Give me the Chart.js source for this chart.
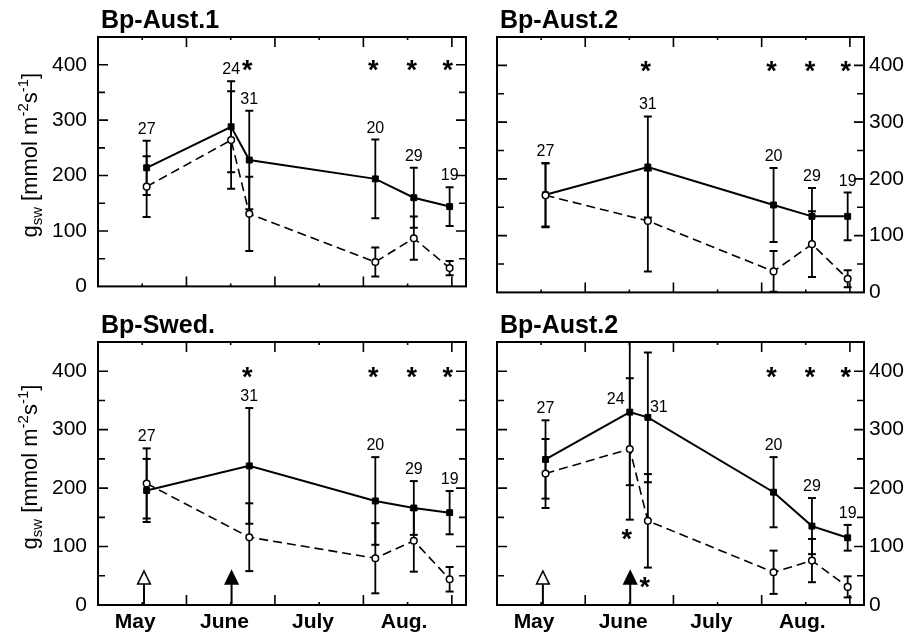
<!DOCTYPE html>
<html>
<head>
<meta charset="utf-8">
<script src="https://cdn.jsdelivr.net/npm/chart.js@4.4.1/dist/chart.umd.min.js"></script>
<style>
html, body { margin: 0; padding: 0; background: #fff; }
#wrap { position: relative; width: 910px; height: 634px; overflow: hidden; }
canvas { position: absolute; }
</style>
</head>
<body>
<div id="wrap">
  <canvas id="c1" width="480" height="310" style="left:0;top:0"></canvas>
  <canvas id="c2" width="430" height="310" style="left:480px;top:0"></canvas>
  <canvas id="c3" width="480" height="324" style="left:0;top:310px"></canvas>
  <canvas id="c4" width="430" height="324" style="left:480px;top:310px"></canvas>
</div>
<script>
// x is in months counted from 1 May
const monthNames = ['May', 'June', 'July', 'Aug.'];
const monthLabelAt = [0.42, 1.43, 2.43, 3.46];
const sampleX = [0.55, 1.505, 1.71, 3.135, 3.57, 3.975];
const sampleN = [27, 24, 31, 20, 29, 19];
const yTickValues = [0, 100, 200, 300, 400];
const arrowX = [0.52, 1.51];
const arrowFilled = [false, true];

// Bp-Aust.1
const aust1Solid = [214, 288, 228, 194, 160, 144];
const aust1SolidErr = [49, 82, 89, 71, 54, 35];
const aust1Open = [180, 264, 131, 44, 87, 33];
const aust1OpenErr = [55, 88, 67, 26, 39, 13];
const aust1Sig = [false, false, true, true, true, true];

// Bp-Aust.2 (top)
const aust2Solid = [172, null, 221, 154, 134, 134];
const aust2SolidErr = [56, null, 89, 65, 50, 42];
const aust2Open = [171, null, 126, 37, 85, 24];
const aust2OpenErr = [56, null, 89, 36, 58, 15];
const aust2Sig = [false, false, true, true, true, true];

// Bp-Swed.
const swedSolid = [196, null, 238, 178, 166, 158];
const swedSolidErr = [54, null, 99, 75, 46, 37];
const swedOpen = [208, null, 116, 80, 110, 44];
const swedOpenErr = [60, null, 58, 60, 53, 21];
const swedSig = [false, false, true, true, true, true];

// Bp-Aust.2 (bottom)
const aust2bSolid = [249, 330, 321, 193, 135, 115];
const aust2bSolidErr = [67, 125, 111, 60, 48, 22];
const aust2bOpen = [225, 267, 144, 56, 76, 31];
const aust2bOpenErr = [59, 121, 80, 37, 37, 18];
const aust2bSig = [false, false, false, true, true, true];
const aust2bSigBelow = [false, true, true, false, false, false];

const FONT = '"Liberation Sans", Arial, Helvetica, sans-serif';

const panels = [
  { id: 'c1', title: 'Bp-Aust.1', side: 'left', bottom: false,
    solid: aust1Solid, solidErr: aust1SolidErr, open: aust1Open, openErr: aust1OpenErr, sig: aust1Sig,
    padding: { left: 0, top: 37, right: 14, bottom: 10 } },
  { id: 'c2', title: 'Bp-Aust.2', side: 'right', bottom: false,
    solid: aust2Solid, solidErr: aust2SolidErr, open: aust2Open, openErr: aust2OpenErr, sig: aust2Sig,
    padding: { left: 17, top: 37, right: 0, bottom: 10 } },
  { id: 'c3', title: 'Bp-Swed.', side: 'left', bottom: true,
    solid: swedSolid, solidErr: swedSolidErr, open: swedOpen, openErr: swedOpenErr, sig: swedSig,
    padding: { left: 0, top: 32, right: 14, bottom: 0 } },
  { id: 'c4', title: 'Bp-Aust.2', side: 'right', bottom: true,
    solid: aust2bSolid, solidErr: aust2bSolidErr, open: aust2bOpen, openErr: aust2bOpenErr, sig: aust2bSig,
    sigBelow: aust2bSigBelow,
    labelNudge: { 1: [-14, 69], 2: [11, 66] },
    padding: { left: 17, top: 32, right: 0, bottom: 0 } }
];

function toPoints(vals) {
  return sampleX.map((x, i) => ({ x: x, y: vals[i] }));
}

// each error bar is a two-point segment, separated by gaps
function toBars(vals, errs) {
  const out = [];
  vals.forEach((v, i) => {
    if (v === null) return;
    out.push({ x: sampleX[i], y: v - errs[i] });
    out.push({ x: sampleX[i], y: v + errs[i] });
    out.push({ x: sampleX[i], y: null });
  });
  return out;
}

function centeredText(ctx, s, cx, cy) {
  const m = ctx.measureText(s);
  const asc = m.actualBoundingBoxAscent, desc = m.actualBoundingBoxDescent;
  ctx.fillText(s, cx, cy + (asc - desc) / 2);
}

function drawYLabel(ctx, baseX, centerY) {
  const parts = [
    { t: 'g', size: 22, dy: 0 },
    { t: 'sw', size: 15, dy: 5 },
    { t: ' [mmol m', size: 22, dy: 0 },
    { t: '-2', size: 15, dy: -9 },
    { t: 's', size: 22, dy: 0 },
    { t: '-1', size: 15, dy: -9 },
    { t: ']', size: 22, dy: 0 }
  ];
  ctx.save();
  ctx.translate(baseX, centerY);
  ctx.rotate(-Math.PI / 2);
  ctx.textAlign = 'left';
  ctx.textBaseline = 'alphabetic';
  let total = 0;
  parts.forEach(p => { ctx.font = p.size + 'px ' + FONT; total += ctx.measureText(p.t).width; });
  let x = -total / 2;
  parts.forEach(p => {
    ctx.font = p.size + 'px ' + FONT;
    ctx.fillText(p.t, x, p.dy);
    x += ctx.measureText(p.t).width;
  });
  ctx.restore();
}

function decor(p) {
  return {
    id: 'decor_' + p.id,
    afterDraw(chart) {
      const { ctx, chartArea: a, scales } = chart;
      const xs = scales.x, ys = scales.y;
      ctx.save();
      ctx.strokeStyle = '#000';
      ctx.fillStyle = '#000';

      // inward tick marks
      ctx.lineWidth = 1.6;
      ctx.beginPath();
      for (let v = 50; v < 450; v += 50) {
        const py = ys.getPixelForValue(v);
        const len = v % 100 === 0 ? 10 : 7;
        ctx.moveTo(a.left, py); ctx.lineTo(a.left + len, py);
        ctx.moveTo(a.right, py); ctx.lineTo(a.right - len, py);
      }
      for (let m = 0.5; m < 4.16; m += 0.5) {
        const px = xs.getPixelForValue(m);
        const len = Number.isInteger(m) ? 10 : 3;
        ctx.moveTo(px, a.bottom); ctx.lineTo(px, a.bottom - len);
        ctx.moveTo(px, a.top); ctx.lineTo(px, a.top + len);
      }
      ctx.stroke();

      // frame
      ctx.lineWidth = 2;
      ctx.strokeRect(a.left, a.top, a.right - a.left, a.bottom - a.top);

      // title
      ctx.font = 'bold 25px ' + FONT;
      ctx.textAlign = 'left';
      ctx.textBaseline = 'alphabetic';
      ctx.fillText(p.title, a.left + 3, a.top - 9);

      if (p.side === 'left') {
        drawYLabel(ctx, 36.5, (a.top + a.bottom) / 2 - 6.5);
      }

      // sample sizes above the highest error bar
      ctx.font = '16px ' + FONT;
      ctx.textAlign = 'center';
      sampleX.forEach((x, i) => {
        if (p.solid[i] === null && p.open[i] === null) return;
        const top = Math.min(450, Math.max(p.solid[i] + p.solidErr[i], p.open[i] + p.openErr[i]));
        let px = xs.getPixelForValue(x);
        let py = ys.getPixelForValue(top) - 13;
        const n = p.labelNudge && p.labelNudge[i];
        if (n) { px += n[0]; py += n[1]; }
        centeredText(ctx, String(sampleN[i]), px, py);
      });

      // significance stars
      ctx.font = 'bold 27px ' + FONT;
      sampleX.forEach((x, i) => {
        if (p.sig[i]) {
          centeredText(ctx, '*', xs.getPixelForValue(x) - 2, ys.getPixelForValue(400) + 1);
        }
        if (p.sigBelow && p.sigBelow[i]) {
          const low = ys.getPixelForValue(p.open[i] - p.openErr[i]);
          centeredText(ctx, '*', xs.getPixelForValue(x) - 3, low + 15);
        }
      });

      // treatment arrows
      if (p.bottom) {
        arrowX.forEach((x, i) => {
          const px = xs.getPixelForValue(x);
          ctx.lineWidth = 2;
          ctx.beginPath();
          ctx.moveTo(px, a.bottom);
          ctx.lineTo(px, a.bottom - 21);
          ctx.stroke();
          ctx.beginPath();
          ctx.moveTo(px, a.bottom - 34);
          ctx.lineTo(px + 6.3, a.bottom - 21);
          ctx.lineTo(px - 6.3, a.bottom - 21);
          ctx.closePath();
          ctx.fillStyle = arrowFilled[i] ? '#000' : '#fff';
          ctx.fill();
          ctx.lineWidth = 1.6;
          ctx.stroke();
          ctx.fillStyle = '#000';
        });
      }
      ctx.restore();
    }
  };
}

panels.forEach(p => {
  new Chart(document.getElementById(p.id), {
    type: 'line',
    data: {
      datasets: [
        { // open circles, dashed
          data: toPoints(p.open),
          borderColor: '#000', borderWidth: 1.6, borderDash: [9, 5],
          pointStyle: 'circle', pointRadius: 3.3, pointBorderWidth: 1.5,
          pointBackgroundColor: '#fff', pointBorderColor: '#000', spanGaps: true
        },
        { // filled squares, solid
          data: toPoints(p.solid),
          borderColor: '#000', borderWidth: 2,
          pointStyle: 'rect', pointRadius: 4.2, pointBorderWidth: 1,
          pointBackgroundColor: '#000', pointBorderColor: '#000', spanGaps: true
        },
        { // open series error bars
          data: toBars(p.open, p.openErr),
          borderColor: '#000', borderWidth: 1.8,
          pointStyle: 'line', pointRadius: 4, pointBorderWidth: 2,
          pointBorderColor: '#000', spanGaps: false
        },
        { // solid series error bars
          data: toBars(p.solid, p.solidErr),
          borderColor: '#000', borderWidth: 1.8,
          pointStyle: 'line', pointRadius: 4, pointBorderWidth: 2,
          pointBorderColor: '#000', spanGaps: false
        }
      ]
    },
    options: {
      responsive: false,
      animation: false,
      devicePixelRatio: 1,
      events: [],
      layout: { padding: p.padding },
      plugins: { legend: { display: false }, tooltip: { enabled: false } },
      scales: {
        x: {
          type: 'linear', min: 0, max: 4.16,
          display: p.bottom,
          grid: { display: false, drawTicks: false },
          border: { display: false },
          afterBuildTicks: ax => { ax.ticks = monthLabelAt.map(v => ({ value: v })); },
          afterFit: ax => { if (p.bottom) ax.height = 29; },
          ticks: {
            autoSkip: false, maxRotation: 0, padding: 5, color: '#000',
            font: { family: FONT, size: 21, weight: 'bold' },
            callback: (v, i) => monthNames[i]
          }
        },
        y: {
          type: 'linear', position: p.side, min: 0, max: 450,
          grid: { display: false, drawTicks: false },
          border: { display: false },
          afterBuildTicks: ax => { ax.ticks = yTickValues.map(v => ({ value: v })); },
          afterFit: ax => { ax.width = p.side === 'left' ? 98 : 46; },
          ticks: {
            padding: p.side === 'left' ? 11 : 5, color: '#000',
            font: { family: FONT, size: 21 }
          }
        }
      }
    },
    plugins: [decor(p)]
  });
});
</script>
</body>
</html>
